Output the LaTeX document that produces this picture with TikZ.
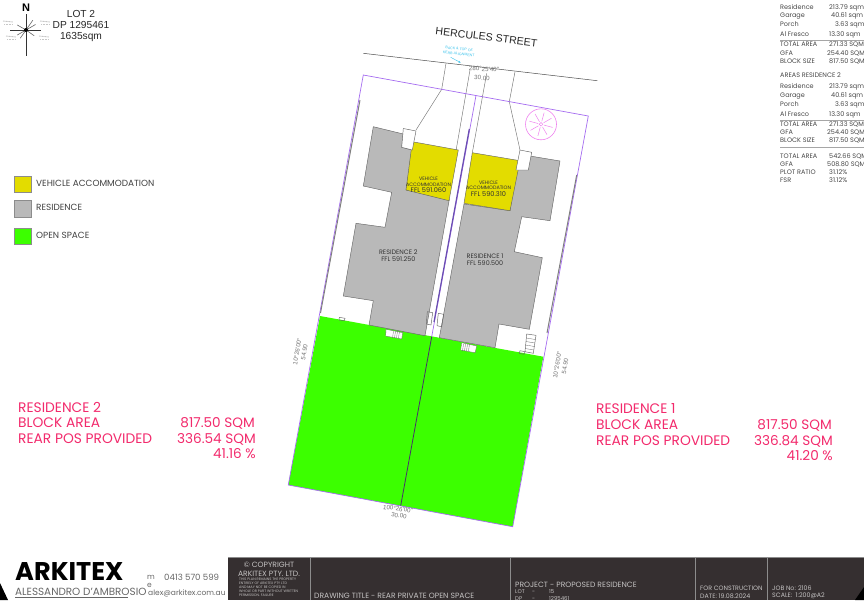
\documentclass[tikz,border=0pt]{standalone}
\usepackage{fontspec}
\usepackage{tikz}
\usetikzlibrary{arrows.meta}
\setmainfont{Poppins}
\newfontfamily\arialfont{Liberation Sans}
\definecolor{sitepurple}{HTML}{A56CF0}
\definecolor{wallpurple}{HTML}{6A4FB0}
\definecolor{openspace}{HTML}{3CFF00}
\definecolor{vehicle}{HTML}{E3DC00}
\definecolor{residence}{HTML}{B9B9B9}
\definecolor{barcolor}{HTML}{352F30}
\definecolor{bartext}{HTML}{C4C2C2}
\definecolor{roseline}{HTML}{EE82EE}
\definecolor{poscolor}{HTML}{F22A6C}
\definecolor{kerb}{HTML}{35C0EA}
\tikzset{
  areatext/.style = {anchor=base west, inner sep=0pt, text=black!72, font=\fontsize{6.5}{7}\selectfont},
  arearule/.style = {draw=black!35, line width=1pt},
  plantext/.style = {inner sep=0pt, align=center, text=black!80, font=\fontsize{4.9}{5.6}\selectfont},
  restext/.style = {inner sep=0pt, align=center, text=black!80, font=\fontsize{6.4}{7.4}\selectfont},
  dimtext/.style = {inner sep=0pt, text=black!55, font=\arialfont\fontsize{6.2}{7}\selectfont},
  legendbox/.style = {draw=black!45, line width=0.6pt},
  legendtext/.style = {anchor=west, inner sep=0pt, text=black!75, font=\fontsize{8.9}{10}\selectfont},
  postext/.style = {anchor=west, inner sep=0pt, text=poscolor, font=\fontsize{13.8}{15}\selectfont},
  posval/.style = {anchor=east, inner sep=0pt, text=poscolor, font=\fontsize{13.6}{15}\selectfont},
  bartxt/.style = {anchor=west, inner sep=0pt, text=bartext, font=\fontsize{7.6}{9}\selectfont},
  barsmall/.style = {bartxt, font=\fontsize{5.4}{6}\selectfont},
  barmid/.style = {bartxt, font=\fontsize{6.3}{7}\selectfont},
  contact/.style = {inner sep=0pt, anchor=west, text=black!60, font=\fontsize{7.5}{9}\selectfont},
  outline/.style = {draw=black!60, line width=0.45pt},
  sitelines/.style = {draw=black!55, line width=0.45pt},
}
\begin{document}
\begin{tikzpicture}[x=1pt, y=-1pt]
  \useasboundingbox (0,0) rectangle (864,600);

  \fill[openspace] (320,316) -- (543.3,356.7) -- (512.7,526.7) -- (288.3,485) -- cycle;

  \draw[black!70, line width=0.5pt] (363.3,53.3) -- (597.3,80.7);
  \draw[sitelines] (446,63.3) -- (441.7,89.3) -- (416,130);
  \draw[sitelines] (470,70) -- (456,150.7);
  \draw[sitelines] (486.7,73.3) -- (472.3,152.7);
  \draw[sitelines] (515,71.7) -- (509.3,101.7) -- (520,150);

  \draw[sitepurple, line width=0.7pt] (363.3,75) -- (588.3,116) -- (512.7,526.7) -- (288.3,485) -- cycle;
  \draw[sitepurple, line width=0.7pt] (476,95.5) -- (431.7,336.7);
  \draw[black!55!sitepurple, line width=0.8pt] (431.7,336.7) -- (400.7,505.7);
  \draw[wallpurple, line width=1.2pt] (469.3,129) -- (434,322);
  \draw[black!50, line width=1pt] (360,100) -- (320.5,313);
  \draw[black!50, line width=1pt] (576.7,175) -- (547,333);

  \filldraw[fill=residence, outline] (373.3,126.7) -- (403.3,134) -- (401.7,147.3) -- (412.3,150) -- (406,190) -- (449.3,199.5)
    -- (425,335.7) -- (369,325) -- (373.3,300.7) -- (343.3,296) -- (356,223.3) -- (385,227.3) -- (391.7,192.3) -- (363.3,186) -- cycle;
  \filldraw[fill=residence, outline] (464,204) -- (510,210.7) -- (516,170) -- (528.3,170) -- (530,156) -- (560,161) -- (550,220.7)
    -- (521.7,216.7) -- (514.3,251.7) -- (542.3,257.7) -- (529.3,329.3) -- (499,324) -- (495,347.7) -- (439.3,337.7) -- cycle;

  \filldraw[fill=vehicle, outline] (412.3,141.7) -- (458.3,150) -- (449,200.7) -- (406,190) -- cycle;
  \filldraw[fill=vehicle, outline] (472.3,152.7) -- (520,160.7) -- (510,210.7) -- (464,203.3) -- cycle;

  \filldraw[fill=white, outline] (403.3,128.5) -- (416,131) -- (412.3,150) -- (401.7,147.3) -- cycle;
  \filldraw[fill=white, outline] (520,150) -- (531.7,152.3) -- (528.3,170) -- (516,170) -- cycle;

  \filldraw[fill=white, draw=black!60, line width=0.3pt] (386,329.3) -- (402.7,332.7) -- (401.7,339) -- (385.7,336) -- cycle;
  \filldraw[fill=white, draw=black!60, line width=0.3pt] (461.7,342.7) -- (476.7,346) -- (475,352.7) -- (460.7,350) -- cycle;
  \foreach \s in {0,1,2,3} {
    \draw[black!60, line width=0.3pt] ({393.5+2*\s},331.2) -- ({392.5+2*\s},338);
    \draw[black!60, line width=0.3pt] ({463.5+2*\s},344) -- ({462.5+2*\s},351);
  }
  \draw[outline] (427.3,311.7) -- (432.7,312.7) -- (431,325) -- (426.3,324) -- cycle;
  \draw[outline] (438.3,313.3) -- (443.7,314.3) -- (441.7,326.7) -- (437,325.7) -- cycle;
  \draw[outline] (526.7,334) -- (536,335.3) -- (533.3,353.3) -- (525,351.7) -- cycle;
  \foreach \s in {0,1,2,3} {
    \draw[black!60, line width=0.3pt] ({526.3-0.4*\s},{338+3.5*\s}) -- ({535.3-0.4*\s},{339.5+3.5*\s});
  }
  \draw[outline] (520,350.7) -- (525,351.7) -- (524,354.3) -- (519.3,353.3) -- cycle;
  \draw[outline] (339.3,317.3) -- (345,318.3) -- (344.3,320.7) -- (339,320) -- cycle;

  \draw[roseline, line width=0.6pt] (541,124.3) circle (15.5);
  \draw[roseline, line width=0.5pt] (541,124.3) circle (1.8);
  \foreach \a in {15,60,...,330} {
    \draw[roseline, line width=0.5pt] (541,124.3) ++(\a:3) -- ++(\a:9);
  }

  \node[plantext] (vehicletwo) at (428.5,185) {VEHICLE\\ACCOMMODATION\\[0.5pt]{\fontsize{6.6}{7}\selectfont FFL 591.060}};
  \node[plantext] (vehicleone) at (488.5,188.5) {VEHICLE\\ACCOMMODATION\\[0.5pt]{\fontsize{6.6}{7}\selectfont FFL 590.310}};
  \node[restext] (restwo) at (398.3,255.5) {RESIDENCE 2\\FFL 591.250};
  \node[restext] (resone) at (485,259.5) {RESIDENCE 1\\FFL 590.500};

  \node[inner sep=0pt, rotate=-7, text=black!85, font=\arialfont\fontsize{10.6}{12}\selectfont] (street) at (486.5,37) {HERCULES STREET};
  \node[inner sep=0pt, rotate=-6, align=center, text=kerb, font=\arialfont\fontsize{3.6}{5}\selectfont] (kerbnote) at (459,51.5) {BACK \& TOP OF\\KERB ALIGNMENT};
  \coordinate (kerbend) at (460.7,62.7);
  \draw[kerb, line width=0.4pt, -{Stealth[length=2.5pt]}] (450.7,57.3) -- (kerbend);
  \node[dimtext, rotate=-3] (dimtop) at (484,69) {280\textdegree25'40"};
  \node[dimtext, rotate=-3] (dimtopb) at (482,78) {30.00};
  \node[dimtext, rotate=80] (dimleft) at (297.3,351.7) {10\textdegree26'00"};
  \node[dimtext, rotate=80] (dimleftb) at (304.3,352.3) {54.90};
  \node[dimtext, rotate=80] (dimright) at (557.3,365) {10\textdegree26'00"};
  \node[dimtext, rotate=80] (dimrightb) at (565,366) {54.90};
  \node[dimtext, rotate=-8] (dimbot) at (398,509) {100\textdegree26'00"};
  \node[dimtext, rotate=-8] (dimbotb) at (399,515.5) {30.00};

  \node[inner sep=0pt, font=\arialfont\bfseries\fontsize{11}{12}\selectfont] (north) at (26,8) {N};
  \draw[black!80, line width=1pt] (26,14) -- (26,56);
  \draw[black!80, line width=0.8pt] (10,30) -- (41,30);
  \foreach \a/\r in {35/10, 150/10, 210/10, 305/12, 330/11, 125/10} {
    \draw[black!60, line width=0.6pt] (26,30) -- ++(\a:\r);
  }
  \fill[black] (26,30) circle (2);
  \foreach \p in {{3,21},{40,21},{6,36},{39,36}} {
    \draw[black!22, line width=0.9pt, dash pattern=on 1pt off 0.5pt] (\p) -- ++(10,1);
    \draw[black!22, line width=0.9pt, dash pattern=on 1pt off 0.5pt] (\p) ++(1,3) -- ++(8,0);
  }
  \node[inner sep=0pt, align=center, text=black!85, font=\arialfont\fontsize{10.2}{10.9}\selectfont] (lotnote) at (81,26) {LOT 2\\DP 1295461\\1635sqm};

  \fill[vehicle, legendbox] (14,176) rectangle (31,192);
  \fill[residence, legendbox] (14,200) rectangle (31,217);
  \fill[openspace, legendbox] (14,228) rectangle (31,244);
  \node[legendtext] (legvehicle) at (36,183) {VEHICLE ACCOMMODATION};
  \node[legendtext] (legres) at (36,207.5) {RESIDENCE};
  \node[legendtext] (legopen) at (36,235) {OPEN SPACE};

  \node[postext] (postwo) at (18,407) {RESIDENCE 2};
  \node[postext] (posareatwo) at (18,423) {BLOCK AREA};
  \node[postext] (posreartwo) at (18,439) {REAR POS PROVIDED};
  \node[posval] (posvalatwo) at (255,423) {817.50 SQM};
  \node[posval] (posvalbtwo) at (256,439) {336.54 SQM};
  \node[posval] (posvalctwo) at (256,454) {41.16 \%};
  \node[postext] (posone) at (596,409) {RESIDENCE 1};
  \node[postext] (posareaone) at (596,425) {BLOCK AREA};
  \node[postext] (posrearone) at (596,441) {REAR POS PROVIDED};
  \node[posval] (posvalaone) at (832,425) {817.50 SQM};
  \node[posval] (posvalbone) at (833,441) {336.84 SQM};
  \node[posval] (posvalcone) at (833,456) {41.20 \%};

  \foreach \n/\yy/\lab/\val/\xx in {
    a/9/Residence/213.79 sqm/829, b/17.5/Garage/40.61 sqm/831, c/26.5/Porch/3.63 sqm/835, d/36/Al Fresco/13.30 sqm/829,
    e/46.5/TOTAL AREA/271.33 SQM/829, f/55/GFA/254.40 SQM/827, g/63/BLOCK SIZE/817.50 SQM/829,
    i/88/Residence/213.79 sqm/829, j/97.5/Garage/40.61 sqm/831, k/106.5/Porch/3.63 sqm/835, l/116/Al Fresco/13.30 sqm/829,
    m/126.5/TOTAL AREA/271.33 SQM/829, n/134.5/GFA/254.40 SQM/827, o/142.5/BLOCK SIZE/817.50 SQM/829,
    p/158.5/TOTAL AREA/542.66 SQM/829, q/166.5/GFA/508.80 SQM/827, r/174.5/PLOT RATIO/31.12\%/829, s/182.5/FSR/31.12\%/829} {
    \node[areatext] (lab\n) at (780,\yy) {\lab};
    \node[areatext] (val\n) at (\xx,\yy) {\val};
  }
  \node[areatext] (areastwo) at (780,77.5) {AREAS RESIDENCE 2};
  \draw[arearule] (780,40) -- (864,40);
  \draw[arearule] (780,120) -- (864,120);
  \draw[arearule] (780,147.7) -- (864,147.7);

  \fill[barcolor] (228,557.5) rectangle (864,600);
  \foreach \x in {310,510.7,695,767.3} {
    \draw[black!45, line width=0.5pt] (\x,557.5) -- (\x,600);
  }
  \draw[black!45, line width=0.5pt] (228,557.5) -- (864,557.5);
  \fill[black] (0,583) -- (8,600) -- (0,600) -- cycle;
  \fill[black] (864,587) -- (864,600) -- (855,600) -- cycle;

  \node[inner sep=0pt, anchor=west, font=\bfseries\fontsize{25.6}{27}\selectfont] (brand) at (15,572) {ARKITEX};
  \node[inner sep=0pt, anchor=west, text=black!60, font=\fontsize{10.4}{11}\selectfont] (designer) at (15,591.5) {ALESSANDRO D'AMBROSIO};
  \draw[black!60, line width=0.5pt] (15,597.5) -- (128,597.5);
  \node[contact] (phonem) at (147,577) {m};
  \node[contact, font=\fontsize{8.6}{9}\selectfont] (phone) at (164,577) {0413 570 599};
  \node[contact] (maile) at (147,585) {e};
  \node[contact] (mail) at (148,593) {alex@arkitex.com.au};

  \node[inner sep=0pt, text=bartext, font=\fontsize{7.6}{9}\selectfont] (copyr) at (269,564.5) {\textcopyright\ COPYRIGHT};
  \node[inner sep=0pt, text=bartext, font=\fontsize{7.6}{9}\selectfont] (copyco) at (269,573.5) {ARKITEX PTY. LTD.};
  \node[inner sep=0pt, text=bartext, align=left, anchor=north west, font=\fontsize{3.5}{3.9}\selectfont] (copynote) at (239,578) {THIS PLAN REMAINS THE PROPERTY\\ENTIRELY OF ARKITEX PTY LTD\\AND MAY NOT BE COPIED IN\\WHOLE OR PART WITHOUT WRITTEN\\PERMISSION. FAILURE};
  \node[bartxt] (title) at (314,596) {DRAWING TITLE - REAR PRIVATE OPEN SPACE};
  \node[bartxt] (project) at (515,584.5) {PROJECT - PROPOSED RESIDENCE};
  \node[barsmall] (lotk) at (515,592) {LOT};
  \node[barsmall] (lotd) at (532,592) {-};
  \node[barsmall] (lotv) at (549,592) {15};
  \node[barsmall] (dpk) at (515,599) {DP};
  \node[barsmall] (dpd) at (532,599) {-};
  \node[barsmall] (dpv) at (549,599) {1295461};
  \node[barmid] (forcon) at (700,588) {FOR CONSTRUCTION};
  \node[barmid] (date) at (700,596) {DATE: 19.08.2024};
  \node[barmid] (job) at (772,588) {JOB No: 2106};
  \node[barmid] (scale) at (772,596) {SCALE:\ \ 1:200@A2};
\end{tikzpicture}
\end{document}
